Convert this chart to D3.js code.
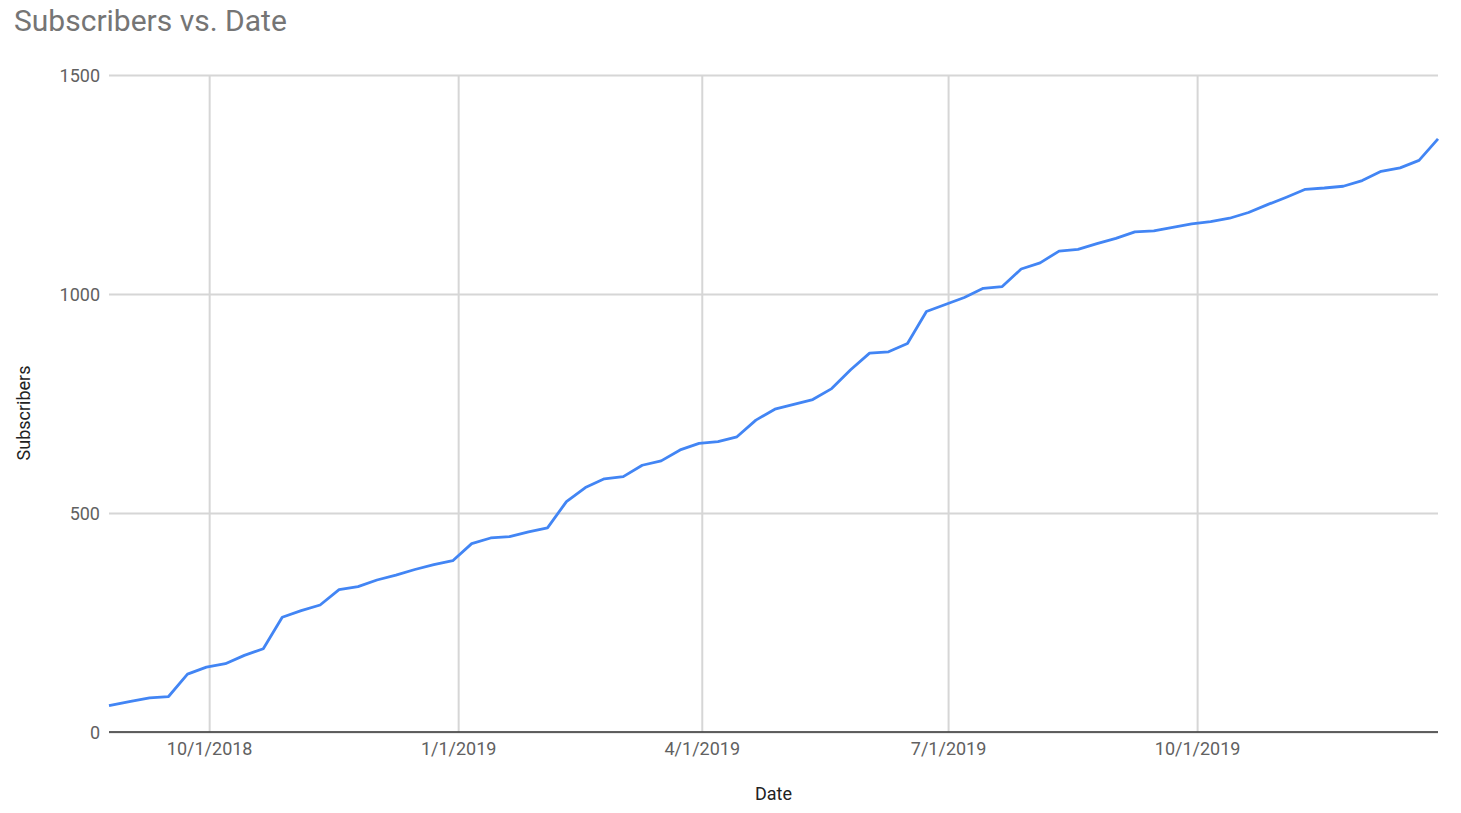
<!DOCTYPE html>
<html><head><meta charset="utf-8">
<script src="https://cdn.jsdelivr.net/npm/d3@7"></script>
<style>body{margin:0;background:#fff;} svg{display:block;}</style>
</head><body>
<svg id="chart" width="1461" height="813"></svg>
<script>
const dates = ["2018-08-25","2018-09-02","2018-09-09","2018-09-16","2018-09-23","2018-09-30","2018-10-07","2018-10-14","2018-10-21","2018-10-28","2018-11-04","2018-11-11","2018-11-18","2018-11-25","2018-12-02","2018-12-09","2018-12-16","2018-12-23","2018-12-30","2019-01-06","2019-01-13","2019-01-20","2019-01-27","2019-02-03","2019-02-10","2019-02-17","2019-02-24","2019-03-03","2019-03-10","2019-03-17","2019-03-24","2019-03-31","2019-04-07","2019-04-14","2019-04-21","2019-04-28","2019-05-05","2019-05-12","2019-05-19","2019-05-26","2019-06-02","2019-06-09","2019-06-16","2019-06-23","2019-06-30","2019-07-07","2019-07-14","2019-07-21","2019-07-28","2019-08-04","2019-08-11","2019-08-18","2019-08-25","2019-09-01","2019-09-08","2019-09-15","2019-09-22","2019-09-29","2019-10-06","2019-10-13","2019-10-20","2019-10-27","2019-11-03","2019-11-10","2019-11-17","2019-11-24","2019-12-01","2019-12-08","2019-12-15","2019-12-22","2019-12-29"];
const subscribers = [60,70,78,81,132,148,156,175,190,262,277,290,325,332,347,358,371,382,391,430,443,446,457,466,526,558,578,583,609,619,644,659,663,674,712,737,748,759,784,827,865,868,887,960,976,992,1013,1017,1057,1071,1098,1102,1115,1127,1142,1144,1152,1160,1165,1173,1186,1204,1221,1239,1242,1246,1259,1280,1288,1305,1354];
const yTicks = [0,500,1000,1500];
const xTicks = ["2018-10-01","2019-01-01","2019-04-01","2019-07-01","2019-10-01"];
const xTickLabels = ["10/1/2018","1/1/2019","4/1/2019","7/1/2019","10/1/2019"];
const title = "Subscribers vs. Date";
const xTitle = "Date";
const yTitle = "Subscribers";

(function(){
const parse = d3.timeParse("%Y-%m-%d");
const data = dates.map((d,i)=>({date:parse(d), value:subscribers[i]}));

const svg = d3.select("#chart");
const mL = 109, mR = 1438, mT = 75, mB = 732;
const font = "Roboto, Arial, sans-serif";

const x = d3.scaleTime().domain(d3.extent(data, d=>d.date)).range([mL, mR]);
const y = d3.scaleLinear().domain([0,1500]).range([mB, mT]);

const yAxis = d3.axisLeft(y).tickValues(yTicks).tickSize(-(mR-mL)).tickPadding(9).tickFormat(d3.format("d"));
const gy = svg.append("g").attr("transform",`translate(${mL},0)`).call(yAxis);
gy.select(".domain").remove();
gy.selectAll(".tick line").attr("stroke","#d6d6d6").attr("stroke-width",2);
gy.selectAll(".tick text").attr("fill","#616161").style("font-family",font).style("font-size","18px").attr("x",-9).attr("dy","0.34em");

const xAxis = d3.axisBottom(x).tickValues(xTicks.map(parse)).tickSize(-(mB-mT)).tickPadding(12)
  .tickFormat((d,i)=>xTickLabels[i]);
const gx = svg.append("g").attr("transform",`translate(0,${mB})`).call(xAxis);
gx.select(".domain").remove();
gx.selectAll(".tick line").attr("stroke","#d6d6d6").attr("stroke-width",2);
gx.selectAll(".tick text").attr("fill","#616161").style("font-family",font).style("font-size","18px")
  .attr("y",23).attr("dy",null);

svg.append("line").attr("x1",mL).attr("x2",mR).attr("y1",y(0)).attr("y2",y(0))
  .attr("stroke","#333333").attr("stroke-width",1.5);

const line = d3.line().x(d=>x(d.date)).y(d=>y(d.value));
svg.append("path").datum(data).attr("d",line).attr("fill","none")
  .attr("stroke","#4285F4").attr("stroke-width",2.8).attr("stroke-linejoin","round");

svg.append("text").attr("x",14).attr("y",31).text(title)
  .attr("fill","#757575").style("font-family",font).style("font-size","30px");
svg.append("text").attr("x",(mL+mR)/2).attr("y",800).attr("text-anchor","middle").text(xTitle)
  .attr("fill","#222222").style("font-family",font).style("font-size","18px");
svg.append("text").attr("transform","translate(30,413) rotate(-90)").attr("text-anchor","middle").text(yTitle)
  .attr("fill","#222222").style("font-family",font).style("font-size","18px");
})();
</script>
</body></html>
